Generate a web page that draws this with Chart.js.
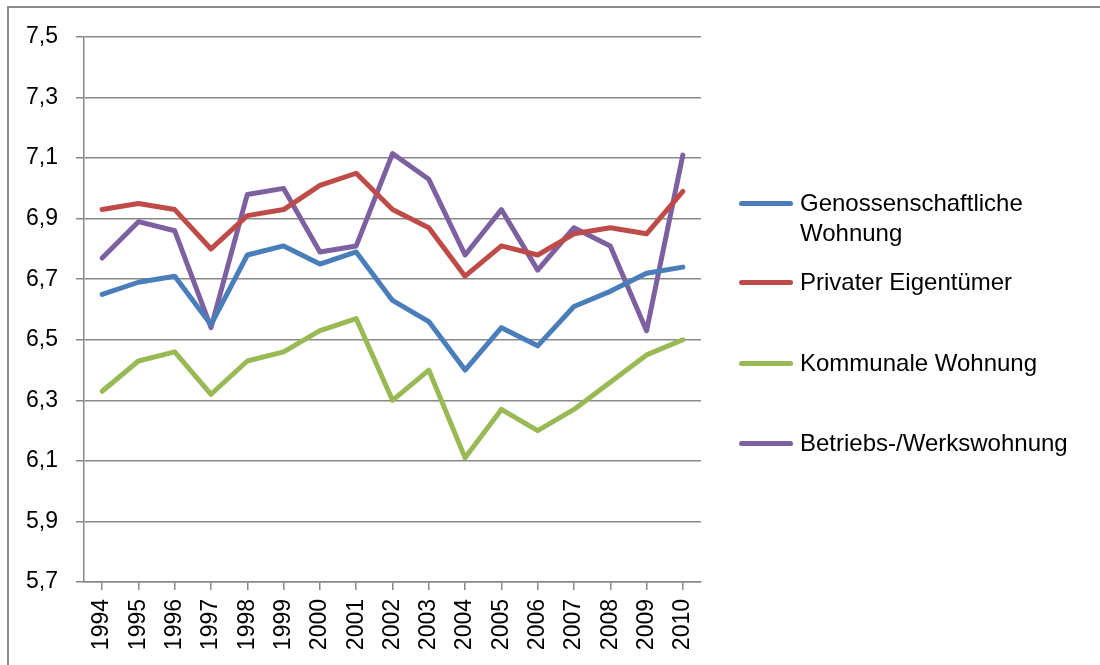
<!DOCTYPE html>
<html lang="de">
<head>
<meta charset="utf-8">
<title>Wohnungen 1994–2010</title>
<script src="https://cdn.jsdelivr.net/npm/chart.js@4.4.1/dist/chart.umd.min.js"></script>
<style>
  html, body { margin: 0; padding: 0; background: #fff; }
  #wrap { position: relative; width: 1100px; height: 665px; overflow: hidden; }
  #frame {
    position: absolute; left: 7px; top: 6px; right: -10px; bottom: -10px;
    border-left: 2px solid #8a8a8a; border-top: 2px solid #8a8a8a;
  }
  #chart { position: absolute; left: 0; top: 0; }
  #legend { position: absolute; left: 0; top: 0; width: 1100px; height: 665px; pointer-events: none; }
  .leg-item { position: absolute; left: 739px; width: 355px; display: flex; align-items: flex-start; }
  .leg-line { width: 54px; height: 5px; border-radius: 3px; margin-top: 13px; margin-right: 7px; flex: none; }
  .leg-text { width: 285px; font: 24px "Liberation Sans", Arial, sans-serif; line-height: 30px; color: #000; }
</style>
</head>
<body>
<div id="wrap">
  <div id="frame"></div>
  <canvas id="chart" width="1100" height="665"></canvas>
  <div id="legend"></div>
</div>
<script>
  var years = ["1994", "1995", "1996", "1997", "1998", "1999", "2000", "2001", "2002",
               "2003", "2004", "2005", "2006", "2007", "2008", "2009", "2010"];

  var genossenschaft = [6.65, 6.69, 6.71, 6.55, 6.78, 6.81, 6.75, 6.79, 6.63,
                        6.56, 6.40, 6.54, 6.48, 6.61, 6.66, 6.72, 6.74];
  var privat = [6.93, 6.95, 6.93, 6.80, 6.91, 6.93, 7.01, 7.05, 6.93,
                6.87, 6.71, 6.81, 6.78, 6.85, 6.87, 6.85, 6.99];
  var kommunal = [6.33, 6.43, 6.46, 6.32, 6.43, 6.46, 6.53, 6.57, 6.30,
                  6.40, 6.11, 6.27, 6.20, 6.27, 6.36, 6.45, 6.50];
  var betrieb = [6.77, 6.89, 6.86, 6.54, 6.98, 7.00, 6.79, 6.81, 7.115,
                 7.03, 6.78, 6.93, 6.73, 6.87, 6.81, 6.53, 7.11];

  var seriesNames = ["Genossenschaftliche Wohnung", "Privater Eigentümer",
                     "Kommunale Wohnung", "Betriebs-/Werkswohnung"];
  var seriesColors = ["#4a7ebb", "#be4b48", "#98b954", "#7d60a0"];

  var yMin = 5.7, yMax = 7.5, yStep = 0.2;

  // legend rows (top of each entry, px)
  var legendTops = [188, 267, 348, 428];

  var gridColor = "#888888";
  var tickFont = { family: "'Liberation Sans', Arial, sans-serif", size: 23 };

  function makeSet(i, values) {
    return {
      label: seriesNames[i],
      data: values,
      borderColor: seriesColors[i],
      backgroundColor: seriesColors[i],
      borderWidth: 5,
      borderCapStyle: "round",
      borderJoinStyle: "round",
      pointRadius: 0,
      tension: 0,
      fill: false
    };
  }

  var chart = new Chart(document.getElementById("chart"), {
    type: "line",
    data: {
      labels: years,
      datasets: [
        makeSet(0, genossenschaft),
        makeSet(1, privat),
        makeSet(2, kommunal),
        makeSet(3, betrieb)
      ]
    },
    options: {
      responsive: false,
      animation: false,
      layout: { padding: { left: 0, right: 399, top: 37, bottom: 0 } },
      plugins: {
        legend: { display: false },
        tooltip: { enabled: false }
      },
      scales: {
        x: {
          offset: true,
          afterFit: function (scale) { scale.height = 83; },
          grid: {
            drawOnChartArea: false,
            drawTicks: true,
            tickLength: 8,
            color: gridColor,
            lineWidth: 1.5
          },
          border: { display: true, color: gridColor, width: 1.5 },
          ticks: {
            color: "#000",
            font: tickFont,
            minRotation: 90,
            maxRotation: 90,
            padding: 9,
            autoSkip: false
          }
        },
        y: {
          min: yMin,
          max: yMax,
          afterFit: function (scale) { scale.width = 84; },
          grid: {
            color: gridColor,
            lineWidth: 1.5,
            tickLength: 8
          },
          border: { display: true, color: gridColor, width: 1.5 },
          ticks: {
            stepSize: yStep,
            color: "#000",
            font: tickFont,
            padding: 18,
            callback: function (v) {
              return v.toFixed(1).replace(".", ",");
            }
          }
        }
      }
    }
  });

  // html legend from the datasets
  var legend = document.getElementById("legend");
  chart.data.datasets.forEach(function (ds, i) {
    var item = document.createElement("div");
    item.className = "leg-item";
    item.style.top = legendTops[i] + "px";
    var line = document.createElement("span");
    line.className = "leg-line";
    line.style.background = ds.borderColor;
    var txt = document.createElement("span");
    txt.className = "leg-text";
    txt.textContent = ds.label;
    item.appendChild(line);
    item.appendChild(txt);
    legend.appendChild(item);
  });
</script>
</body>
</html>
